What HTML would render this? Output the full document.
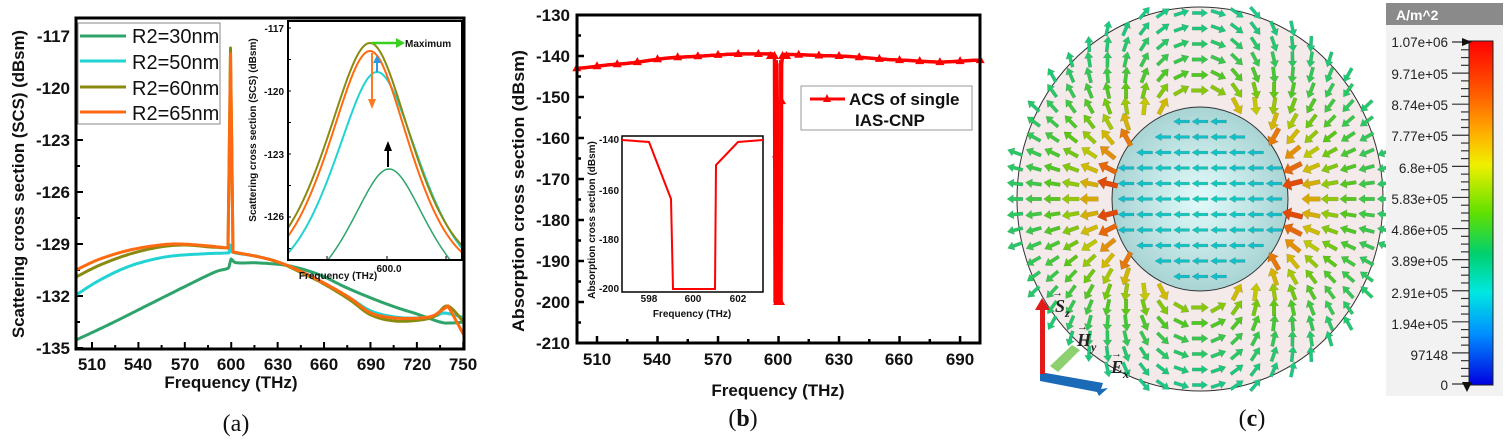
<!DOCTYPE html>
<html><head><meta charset="utf-8"><style>
html,body{margin:0;padding:0;background:#fff;}
svg{display:block;font-family:"Liberation Sans",sans-serif;}
.t{font-weight:bold;font-size:17px;fill:#111;}
.s{font-weight:bold;font-size:10px;fill:#111;}
.cap{font-family:"Liberation Serif",serif;font-size:24px;fill:#111;}
</style></head><body>
<svg id="sv" width="1511" height="445" viewBox="0 0 1511 445" xmlns="http://www.w3.org/2000/svg">
<defs>
<clipPath id="ca"><rect x="76" y="18" width="388" height="331"/></clipPath>
<clipPath id="cia"><rect x="288" y="21" width="174" height="239"/></clipPath>
<linearGradient id="cb" x1="0" y1="0" x2="0" y2="1">
<stop offset="0" stop-color="#ff0000"/><stop offset="0.15" stop-color="#ff5a00"/><stop offset="0.27" stop-color="#ffb000"/>
<stop offset="0.36" stop-color="#f0f000"/><stop offset="0.5" stop-color="#60e000"/><stop offset="0.62" stop-color="#00d070"/>
<stop offset="0.73" stop-color="#00e8e0"/><stop offset="0.85" stop-color="#0090ff"/><stop offset="1" stop-color="#0000e0"/>
</linearGradient>
<radialGradient id="sp" cx="0.5" cy="0.5" r="0.5"><stop offset="0" stop-color="#e2fbfb"/><stop offset="1" stop-color="#a9d4d4"/></radialGradient>
</defs>

<g id="pa"></g>
<rect x="76" y="18" width="388" height="331" fill="none" stroke="#000" stroke-width="3"/>
<g class="t" text-anchor="end">
<text x="70" y="42">-117</text><text x="70" y="94">-120</text><text x="70" y="146">-123</text>
<text x="70" y="198">-126</text><text x="70" y="250">-129</text><text x="70" y="302">-132</text><text x="70" y="354">-135</text>
</g>
<g class="t" text-anchor="middle">
<text x="92" y="370">510</text><text x="138" y="370">540</text><text x="185" y="370">570</text><text x="231" y="370">600</text>
<text x="278" y="370">630</text><text x="324" y="370">660</text><text x="371" y="370">690</text><text x="417" y="370">720</text><text x="463" y="370">750</text>
<text x="231" y="388" font-size="17">Frequency (THz)</text>
</g>
<text class="t" transform="translate(24,184) rotate(-90)" text-anchor="middle" textLength="308" lengthAdjust="spacingAndGlyphs">Scattering cross section (SCS) (dBsm)</text>
<text class="cap" x="236" y="431" text-anchor="middle">(<tspan font-weight="normal">a</tspan>)</text>

<rect x="78" y="23" width="142" height="101" fill="#fff" stroke="#888" stroke-width="1"/>
<g stroke-width="3">
<line x1="80" x2="126" y1="36" y2="36" stroke="#2ea36a"/><line x1="80" x2="126" y1="61" y2="61" stroke="#22d3d3"/>
<line x1="80" x2="126" y1="87" y2="87" stroke="#8a8a10"/><line x1="80" x2="126" y1="112" y2="112" stroke="#ff6a10"/>
</g>
<g font-size="20" fill="#111">
<text x="132" y="43">R2=30nm</text><text x="132" y="69">R2=50nm</text><text x="132" y="95">R2=60nm</text><text x="132" y="120">R2=65nm</text>
</g>

<rect x="288" y="21" width="174" height="239" fill="#fff"/>
<g id="ia" clip-path="url(#cia)"></g>
<rect x="288" y="21" width="174" height="239" fill="none" stroke="#000" stroke-width="2"/>
<g class="s" text-anchor="end"><text x="284" y="32">-117</text><text x="284" y="95">-120</text><text x="284" y="158">-123</text><text x="284" y="220">-126</text></g>
<text class="s" x="389" y="272" text-anchor="middle">600.0</text>
<text class="s" x="338" y="279" text-anchor="middle">Frequency (THz)</text>
<text class="s" transform="translate(256,130) rotate(-90)" text-anchor="middle" font-size="9.5">Scattering cross section (SCS) (dBsm)</text>
<text class="s" x="405" y="47" font-size="11">Maximum</text>

<g id="pb"></g>
<rect x="577" y="15" width="403" height="328" fill="none" stroke="#000" stroke-width="3"/>
<g class="t" text-anchor="end">
<text x="570" y="21">-130</text><text x="570" y="62">-140</text><text x="570" y="103">-150</text><text x="570" y="144">-160</text>
<text x="570" y="185">-170</text><text x="570" y="226">-180</text><text x="570" y="267">-190</text><text x="570" y="308">-200</text><text x="570" y="349">-210</text>
</g>
<g class="t" text-anchor="middle">
<text x="597" y="365">510</text><text x="657" y="365">540</text><text x="718" y="365">570</text><text x="778" y="365">600</text>
<text x="839" y="365">630</text><text x="899" y="365">660</text><text x="960" y="365">690</text>
<text x="778" y="396">Frequency (THz)</text>
</g>
<text class="t" transform="translate(524,191) rotate(-90)" text-anchor="middle" textLength="282" lengthAdjust="spacingAndGlyphs">Absorption cross section (dBsm)</text>
<text class="cap" x="743" y="426" text-anchor="middle">(<tspan font-weight="bold">b</tspan>)</text>
<rect x="801" y="86" width="171" height="44" fill="#fff" stroke="#999"/>
<line x1="810" x2="845" y1="99" y2="99" stroke="#f00" stroke-width="3"/>
<polygon points="827,94 823,102 831,102" fill="#f00"/>
<text x="849" y="105" font-size="17" font-weight="bold" fill="#111">ACS of single</text>
<text x="855" y="126" font-size="17" font-weight="bold" fill="#111">IAS-CNP</text>
<rect x="622" y="136" width="141" height="156" fill="#fff" stroke="#000" stroke-width="1.5"/>
<polyline fill="none" stroke="#f00" stroke-width="2" points="622,140 649,142 671,199 673,289 715,289 716,165 738,142 763,140"/>
<g class="s" text-anchor="end" font-size="8"><text x="619" y="143">-140</text><text x="619" y="194">-160</text><text x="619" y="243">-180</text><text x="619" y="292">-200</text></g>
<g class="s" text-anchor="middle" font-size="8"><text x="649" y="302">598</text><text x="693" y="302">600</text><text x="738" y="302">602</text><text x="692" y="317">Frequency (THz)</text></g>
<text class="s" font-size="7.5" transform="translate(595,220) rotate(-90)" text-anchor="middle">Absorption cross section (dBsm)</text>

<ellipse cx="1200" cy="199" rx="183" ry="192" fill="#f4eaea" stroke="#333" stroke-width="1"/>
<ellipse cx="1200" cy="199" rx="88" ry="92" fill="url(#sp)" stroke="#333" stroke-width="1"/>
<g id="pc"></g>
<polygon points="1050,366 1072,345 1080,350 1058,372" fill="#8cd070"/>
<polygon points="1040,372 1103,383 1101,389 1108,388 1099,396 1097,392 1040,381" fill="#1a6ab8"/>
<polygon points="1040,374 1040,310 1035,310 1042,298 1050,310 1045,310 1045,374" fill="#e21a1a"/>
<g font-family="Liberation Serif,serif" font-style="italic" font-weight="bold" font-size="18" fill="#222">
<text x="1055" y="312">S<tspan font-size="12" dy="5">z</tspan></text><text x="1052" y="296" font-size="11">→</text>
<text x="1077" y="346">H<tspan font-size="12" dy="5">y</tspan></text><text x="1077" y="330" font-size="11">→</text>
<text x="1111" y="373">E<tspan font-size="12" dy="5">x</tspan></text><text x="1111" y="357" font-size="11">→</text>
</g>
<rect x="1386" y="25" width="117" height="371" fill="#f2f2f2"/>
<rect x="1386" y="3" width="117" height="22" fill="#8a8a8a"/>
<text x="1396" y="20" font-size="14" font-weight="bold" fill="#fff">A/m^2</text>
<rect x="1469" y="41" width="24" height="344" fill="url(#cb)" stroke="#222"/>
<g id="cbt"></g>
<g font-size="13.5" fill="#222" text-anchor="end">
<text x="1448" y="47">1.07e+06</text><text x="1448" y="79">9.71e+05</text><text x="1448" y="110">8.74e+05</text>
<text x="1448" y="141">7.77e+05</text><text x="1448" y="173">6.8e+05</text><text x="1448" y="204">5.83e+05</text>
<text x="1448" y="235">4.86e+05</text><text x="1448" y="266">3.89e+05</text><text x="1448" y="298">2.91e+05</text>
<text x="1448" y="329">1.94e+05</text><text x="1448" y="360">97148</text><text x="1448" y="390">0</text>
</g>
<text class="cap" x="1252" y="426" text-anchor="middle">(<tspan font-weight="bold">c</tspan>)</text>
</svg>
<script>
var NS="http://www.w3.org/2000/svg";
function el(p,t,a){var e=document.createElementNS(NS,t);for(var k in a)e.setAttribute(k,a[k]);p.appendChild(e);return e;}
function pl(g,pts,c,w,clip){var a={points:pts.map(function(p){return p[0].toFixed(1)+","+p[1].toFixed(1)}).join(" "),fill:"none",stroke:c,"stroke-width":w,"stroke-linejoin":"round"};if(clip)a["clip-path"]=clip;return el(g,"polyline",a);}
function interp(P,x){for(var i=0;i<P.length-1;i++){if(x>=P[i][0]&&x<=P[i+1][0]){var t=(x-P[i][0])/(P[i+1][0]-P[i][0]);t=t*t*(3-2*t)*0.5+t*0.5;return P[i][1]+(P[i+1][1]-P[i][1])*t;}}return P[P.length-1][1];}
function cr(P){var o=[];for(var i=0;i<P.length-1;i++){var p0=P[Math.max(0,i-1)],p1=P[i],p2=P[i+1],p3=P[Math.min(P.length-1,i+2)];
 var n=Math.max(2,Math.round((p2[0]-p1[0])/2));var sharpSeg=Math.abs(p2[1]-p1[1])>20||Math.abs(p1[1]-p0[1])>20||Math.abs(p3[1]-p2[1])>20;
 for(var k=0;k<n;k++){var t=k/n;if(sharpSeg){o.push([p1[0]+(p2[0]-p1[0])*t,p1[1]+(p2[1]-p1[1])*t]);continue;}
  var t2=t*t,t3=t2*t;var f=function(a,b,c,d){return 0.5*((2*b)+(-a+c)*t+(2*a-5*b+4*c-d)*t2+(-a+3*b-3*c+d)*t3);};
  o.push([f(p0[0],p1[0],p2[0],p3[0]),f(p0[1],p1[1],p2[1],p3[1])]);}}
 o.push(P[P.length-1]);return o;}
var ga=document.getElementById("pa");
for(var i=0;i<13;i++){var y=36+i*26;el(ga,"line",{x1:76,x2:i%2?80:83,y1:y,y2:y,stroke:"#000","stroke-width":2});}
for(var f=510;f<=750;f+=15){var x=92+(f-510)*1.547;el(ga,"line",{x1:x,x2:x,y1:349,y2:(f-510)%30?345:342,stroke:"#000","stroke-width":2});}
var G=[[76,340],[110,324],[150,304],[190,284],[215,272],[226,269],[229,267],[231,259],[234,262],[240,263],[260,263],[290,266],[320,275],[345,287],[371,298],[395,307],[417,314],[440,322],[450,323],[465,322]];
var C=[[76,295],[100,280],[130,266],[165,257],[200,254],[226,253],[229,252],[230.5,245],[232,252],[255,256],[278,262],[300,271],[324,283],[350,298],[371,311],[395,317],[417,318],[435,316],[445,313],[465,318]];
var O=[[76,277],[100,265],[130,254],[160,247],[185,245],[210,247],[228,248],[230.5,48],[233,252],[255,256],[278,262],[300,272],[324,284],[350,300],[371,315],[395,321],[420,320],[435,316],[448,306],[465,324]];
var R=[[76,270],[100,259],[130,250],[160,245],[180,244],[210,246],[228,248],[230.5,54],[233,252],[255,256],[278,262],[300,271],[324,283],[350,298],[371,313],[395,318],[420,318],[435,315],[448,306],[465,337]];
[[G,"#2ea36a"],[C,"#22d3d3"],[O,"#8a8a10"],[R,"#ff6a10"]].forEach(function(s){pl(ga,cr(s[0]),s[1],3,"url(#ca)");});
var ia=document.getElementById("ia");
function lor(x0,pk,yinf,wl,wr){var o=[];var A=yinf-pk;for(var x=288;x<=462;x+=1){var w=x<x0?wl:wr;var d=(x-x0)/w;o.push([x,yinf-A*Math.exp(-d*d*0.5)*0.55-A*0.45/(1+d*d)]);}return o;}
for(var i=0;i<8;i++){el(ia,"line",{x1:288,x2:291,y1:28+i*31.5,y2:28+i*31.5,stroke:"#000"});}
[327,387,446].forEach(function(t){el(ia,"line",{x1:t,x2:t,y1:260,y2:256,stroke:"#000"});});
pl(ia,lor(389,169,300,40,40),"#2ea36a",1.5);
pl(ia,lor(377,72,290,45,45),"#22d3d3",2);
pl(ia,lor(370,43,280,46,44),"#8a8a10",2);
pl(ia,lor(370,51,282,44,42),"#ff6a10",2);
el(ia,"line",{x1:372,x2:397,y1:43,y2:43,stroke:"#3ad020","stroke-width":2.5});
el(ia,"polygon",{points:"396,38 405,43 396,48",fill:"#3ad020"});
el(ia,"line",{x1:372,x2:372,y1:53,y2:100,stroke:"#ff7a20","stroke-width":2});
el(ia,"polygon",{points:"368,99 372,109 376,99",fill:"#ff7a20"});
el(ia,"line",{x1:377,x2:377,y1:72,y2:62,stroke:"#2a9ae8","stroke-width":2});
el(ia,"polygon",{points:"373,63 377,55 381,63",fill:"#2a9ae8"});
el(ia,"line",{x1:388,x2:388,y1:167,y2:150,stroke:"#000","stroke-width":2});
el(ia,"polygon",{points:"384,151 388,141 392,151",fill:"#000"});
var gb=document.getElementById("pb");
for(var v=-130;v>=-210;v-=5){var y=15+(-130-v)*4.1;el(gb,"line",{x1:577,x2:v%10?581:584,y1:y,y2:y,stroke:"#000","stroke-width":2.5});}
for(var f=510;f<=700;f+=15){var x=597+(f-510)*2.017;el(gb,"line",{x1:x,x2:x,y1:343,y2:(f-510)%30?339:336,stroke:"#000","stroke-width":2.5});}
var BV=[[500,-143],[520,-142],[550,-140.3],[580,-139.5],[597,-139.5],[603,-139.6],[630,-140],[660,-141],[680,-141.5],[700,-141]];
function bx(f){return 597+(f-510)*2.017;} function by(v){return 15+(-130-v)*4.1;}
var pts=[];for(var f=500;f<=597;f+=1)pts.push([bx(f),by(interp(BV,f))]);
pts.push([bx(598),by(-140.5)],[bx(598.3),by(-200)],[bx(598.8),by(-142)],[bx(599.2),by(-142)],[bx(600.2),by(-200)],[bx(601.2),by(-200)],[bx(601.5),by(-142)],[bx(602),by(-140)]);
for(var f=603;f<=700;f+=1)pts.push([bx(f),by(interp(BV,f))]);
pl(gb,pts,"#f00",3.5);
el(gb,"line",{x1:bx(599),x2:bx(599),y1:by(-141),y2:by(-200),stroke:"#f00","stroke-width":3});
el(gb,"line",{x1:bx(601),x2:bx(601),y1:by(-141),y2:by(-200),stroke:"#f00","stroke-width":3});
function tri(x,y){el(gb,"polygon",{points:(x)+","+(y-5)+" "+(x-4.5)+","+(y+3)+" "+(x+4.5)+","+(y+3),fill:"#f00"});}
for(var f=500;f<=700;f+=10){if(f==600)continue;tri(bx(f),by(interp(BV,f)));}
[596,598,602,604].forEach(function(f){tri(bx(f),by(-140));});
tri(bx(599),by(-164));tri(bx(601.5),by(-151));tri(bx(599.5),by(-200));tri(bx(601),by(-200));
var gc=document.getElementById("pc");
function cmap(t){var S=[[0,[0,0,224]],[0.15,[0,144,255]],[0.3,[20,205,185]],[0.42,[30,200,120]],[0.55,[90,200,20]],[0.68,[200,200,0]],[0.78,[225,150,10]],[0.9,[230,90,10]],[1,[215,30,0]]];
 t=Math.max(0,Math.min(1,t));for(var i=0;i<S.length-1;i++){if(t<=S[i+1][0]){var u=(t-S[i][0])/(S[i+1][0]-S[i][0]);var a=S[i][1],b=S[i+1][1];return "rgb("+[0,1,2].map(function(k){return Math.round(a[k]+(b[k]-a[k])*u)}).join(",")+")";}}return "rgb(215,30,0)";}
function arrow(x,y,dx,dy,L,w,col){var n=Math.hypot(dx,dy);dx/=n;dy/=n;var px=-dy,py=dx;var hl=L*0.4,hw=w*1.3;
 var x0=x-dx*L/2,y0=y-dy*L/2,x1=x+dx*L/2,y1=y+dy*L/2,xb=x1-dx*hl,yb=y1-dy*hl;
 var P=[[x0+px*w/2,y0+py*w/2],[xb+px*w/2,yb+py*w/2],[xb+px*hw,yb+py*hw],[x1,y1],[xb-px*hw,yb-py*hw],[xb-px*w/2,yb-py*w/2],[x0-px*w/2,y0-py*w/2]];
 el(gc,"polygon",{points:P.map(function(p){return p[0].toFixed(1)+","+p[1].toFixed(1)}).join(" "),fill:col,stroke:"rgba(0,0,0,0.2)","stroke-width":0.5});}
for(var j=-13;j<=13;j++){for(var i=-11;i<=11;i++){
 var x=1200+i*18.5,y=199+j*15.5;var ux=(x-1200)/88,uy=(y-199)/92;var r=Math.hypot(ux,uy);
 var ox=(x-1200)/183,oy=(y-199)/192;if(Math.hypot(ox,oy)>1.04)continue;
 if(r<1){ if(r>0.92)continue; arrow(x,y,-1,0,16,2.8,cmap(0.26+0.04*(1-r)));continue;}
 if(r<1.06)continue;
 var rx=ux/r,ry=uy/r;var md=-rx;var bxv=3*md*rx+1,byv=3*md*ry;var mag=Math.hypot(bxv,byv)/Math.pow(r,2.8);
 var m=Math.min(mag/2,1);var t=0.3+0.72*Math.pow(m,0.75);var L=15+7*m,w=3+2.5*m;
 arrow(x,y,bxv,byv,L,w,cmap(t));}}
var cb=document.getElementById("cbt");
for(var i=0;i<=44;i++){var y=42+i*342/44;var maj=(i%4==0);el(cb,"line",{x1:maj?1452:1461,x2:1469,y1:y,y2:y,stroke:"#333","stroke-width":1.2});}
el(cb,"polygon",{points:"1462,38 1472,42 1462,46",fill:"#111"});
el(cb,"polygon",{points:"1462,382 1472,382 1467,392",fill:"#111"});
</script>
</body></html>
